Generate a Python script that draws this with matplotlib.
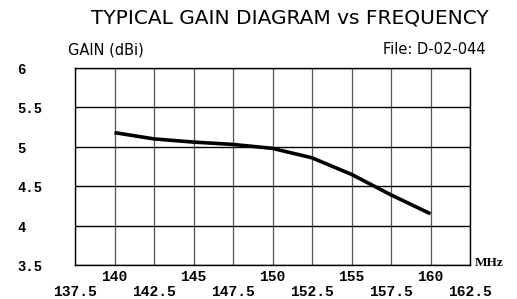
import matplotlib
matplotlib.use("Agg")
import matplotlib.pyplot as plt
from matplotlib.ticker import FixedLocator

freq = [140, 142.5, 145, 147.5, 150, 152.5, 155, 157.5, 160]
gain = [5.18, 5.10, 5.06, 5.03, 4.98, 4.86, 4.65, 4.39, 4.15]

major_x = [140, 145, 150, 155, 160]
minor_x = [137.5, 142.5, 147.5, 152.5, 157.5, 162.5]
major_labels = ["140", "145", "150", "155", "160"]
minor_labels = ["137.5", "142.5", "147.5", "152.5", "157.5", "162.5"]
y_ticks = [3.5, 4, 4.5, 5, 5.5, 6]
y_labels = ["3.5", "4", "4.5", "5", "5.5", "6"]

fig = plt.figure(figsize=(5.17, 2.99), dpi=100)
ax = fig.add_axes([75/517, 1-265/299, (470-75)/517, (265-68)/299])
ax.set_xlim(137.5, 162.5)
ax.set_ylim(3.5, 6)

for x in major_x + minor_x:
    ax.axvline(x, color="#555555", lw=0.9, zorder=1)
for y in y_ticks:
    ax.axhline(y, color="black", lw=1.0, zorder=1)
for s in ax.spines.values():
    s.set_linewidth(1.0)
    s.set_color("black")

ax.plot(freq, gain, color="black", lw=2.6, solid_capstyle="butt", zorder=3)

tickfont = dict(family="Liberation Mono", weight="bold", size=10.5)
ax.xaxis.set_major_locator(FixedLocator(major_x))
ax.xaxis.set_minor_locator(FixedLocator(minor_x))
ax.set_xticklabels(major_labels, **tickfont)
ax.set_xticklabels(minor_labels, minor=True, **tickfont)
ax.tick_params(axis="x", which="major", length=0, pad=3.5)
ax.tick_params(axis="x", which="minor", length=0, pad=14.5)
ax.set_yticks(y_ticks)
ax.set_yticklabels([])
ax.tick_params(axis="y", length=0)
for y, lab in zip(y_ticks, y_labels):
    ax.annotate(lab, xy=(0, y), xycoords=("figure pixels", "data"),
                xytext=(17, -2), textcoords="offset pixels",
                ha="left", va="center", **dict(tickfont, size=10))

ax.text(1.012, 0.012, "MHz", transform=ax.transAxes, ha="left", va="center",
        family="Liberation Serif", weight="bold", size=9.5)

fig.text(290/517, 1-18/299, "TYPICAL GAIN DIAGRAM vs FREQUENCY", ha="center", va="center",
         family="DejaVu Sans", size=14.5)
fig.text(68/517, 1-50/299, "GAIN (dBi)", ha="left", va="center", family="DejaVu Sans", size=10.5)
fig.text(486/517, 1-50/299, "File: D-02-044", ha="right", va="center", family="DejaVu Sans", size=10.5)

fig.savefig("out.png", dpi=100)
